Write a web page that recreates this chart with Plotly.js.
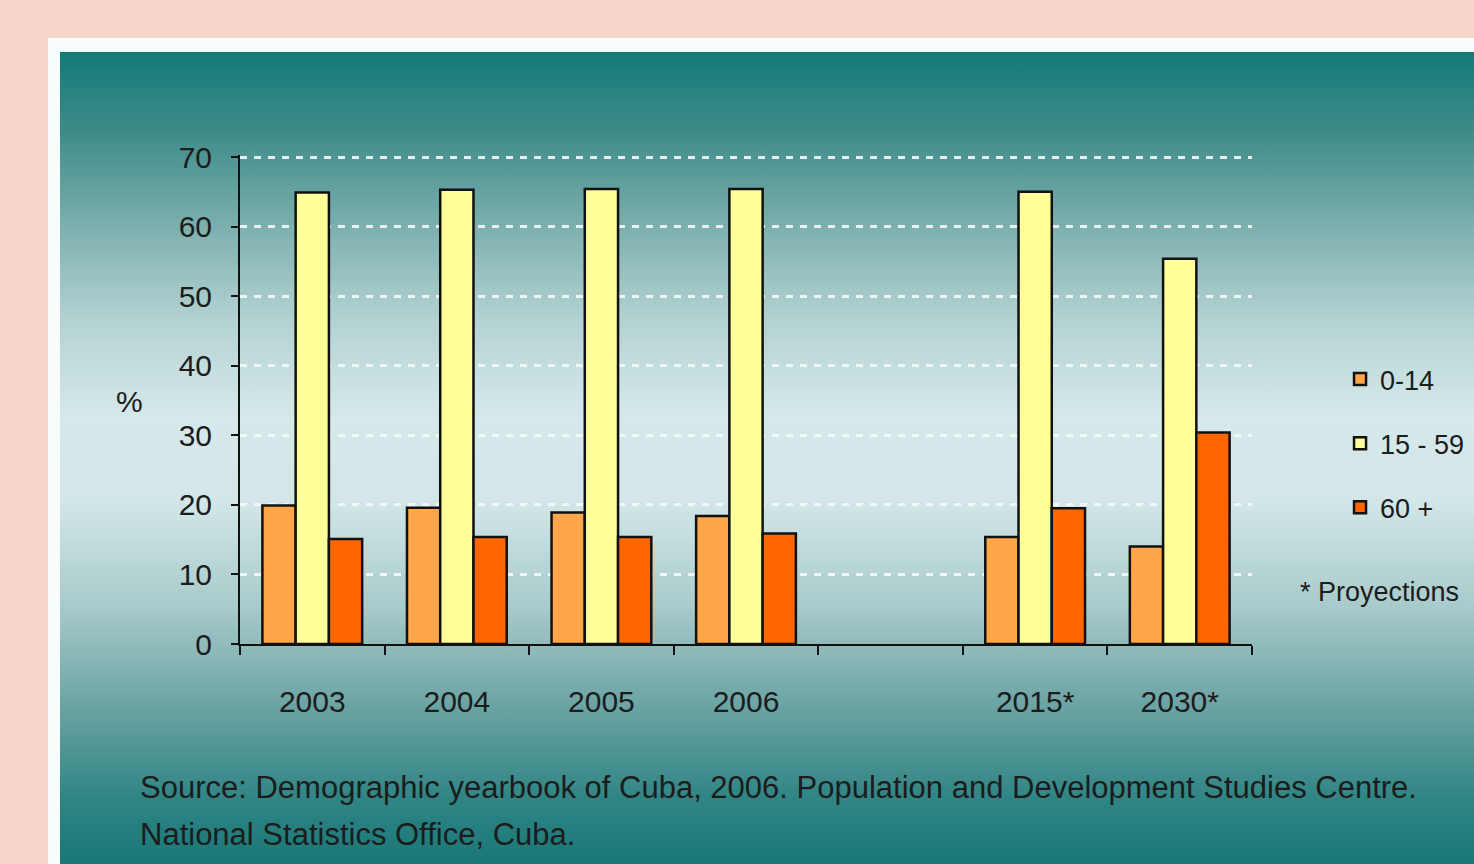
<!DOCTYPE html>
<html>
<head>
<meta charset="utf-8">
<script src="https://cdn.plot.ly/plotly-3.0.1.min.js"></script>
<style>
  html, body { margin:0; padding:0; width:1474px; height:864px; overflow:hidden; background:#f7d6ca; }
  #frame { position:absolute; left:48px; top:38px; width:1426px; height:826px; background:#f7fcfc; }
  #panel { position:absolute; left:60px; top:52px; width:1414px; height:812px;
    background: linear-gradient(to bottom, #137a78 0%, #3f8c8a 10%, #7fb1b0 22%, #b3d2d2 33%, #d6e9ea 45%, #d3e7e8 55%, #a9cbcb 68%, #6ea5a5 80%, #2f8584 92%, #197877 100%); }
  #chart { position:absolute; left:0; top:0; width:1474px; height:864px; }
</style>
</head>
<body>
<div id="frame"></div>
<div id="panel"></div>
<div id="chart"></div>
<script>
const categories = ['2003', '2004', '2005', '2006', ' ', '2015*', '2030*'];
const age0_14  = [19.9, 19.6, 18.9, 18.4, null, 15.4, 14.0];
const age15_59 = [64.9, 65.3, 65.4, 65.4, null, 65.0, 55.4];
const age60    = [15.1, 15.4, 15.4, 15.9, null, 19.5, 30.4];
const seriesNames = ['0-14', '15 - 59', '60 +'];
const seriesColors = ['#ffa64a', '#ffff99', '#ff6600'];
const yTicks = [0, 10, 20, 30, 40, 50, 60, 70];

const fontFam = '"Liberation Sans", Arial, sans-serif';
const txtColor = '#1c1c1c';

const traces = [age0_14, age15_59, age60].map((vals, i) => ({
  type: 'bar',
  x: categories,
  y: vals,
  name: seriesNames[i],
  legendgroup: 'g' + i,
  marker: { color: seriesColors[i], line: { color: '#111', width: 2.5 } },
  hoverinfo: 'skip'
}));

const layout = {
  width: 1474, height: 864,
  paper_bgcolor: 'rgba(0,0,0,0)',
  plot_bgcolor: 'rgba(0,0,0,0)',
  margin: { l: 240, r: 222, t: 155, b: 220, pad: 0, autoexpand: false },
  barmode: 'group',
  bargap: 0.31,
  bargroupgap: 0,
  showlegend: true,
  font: { family: fontFam, color: txtColor, size: 30 },
  xaxis: {
    type: 'category',
    tickson: 'boundaries',
    ticks: 'outside', ticklen: 9, tickwidth: 2, tickcolor: '#111',
    showline: true, linecolor: '#111', linewidth: 2,
    showgrid: false, zeroline: false,
    tickfont: { family: fontFam, size: 30, color: txtColor },
    ticklabelstandoff: 30,
    fixedrange: true
  },
  yaxis: {
    range: [0, 70.3], tickvals: yTicks,
    ticks: 'outside', ticklen: 7, tickwidth: 2, tickcolor: '#111',
    showline: true, linecolor: '#111', linewidth: 2,
    showgrid: true, gridcolor: 'rgba(245,250,250,0.9)', gridwidth: 3, griddash: '7px,7px',
    zeroline: false,
    tickfont: { family: fontFam, size: 30, color: txtColor },
    ticklabelstandoff: 13,
    fixedrange: true
  },
  legend: {
    x: 1.087, xanchor: 'left', y: 0.41, yanchor: 'middle',
    bgcolor: 'rgba(0,0,0,0)',
    font: { family: fontFam, size: 27, color: txtColor },
    itemwidth: 30, tracegroupgap: 26
  },
  annotations: [
    { text: '%', xref: 'paper', yref: 'paper', x: -0.109, y: 0.495, xanchor: 'center', yanchor: 'middle', showarrow: false, font: { family: fontFam, size: 30, color: txtColor } },
    { text: '* Proyections', xref: 'paper', yref: 'paper', x: 1.045, y: 0.107, xanchor: 'left', yanchor: 'middle', showarrow: false, font: { family: fontFam, size: 27, color: txtColor } },
    { text: 'Source: Demographic yearbook of Cuba, 2006. Population and Development Studies Centre.', xref: 'paper', yref: 'paper', x: -0.101, y: -0.2936, xanchor: 'left', yanchor: 'middle', showarrow: false, font: { family: fontFam, size: 31, color: txtColor } },
    { text: 'National Statistics Office, Cuba.', xref: 'paper', yref: 'paper', x: -0.101, y: -0.390, xanchor: 'left', yanchor: 'middle', showarrow: false, font: { family: fontFam, size: 31, color: txtColor } }
  ]
};

Plotly.newPlot('chart', traces, layout, { displayModeBar: false, staticPlot: true });
</script>
</body>
</html>
